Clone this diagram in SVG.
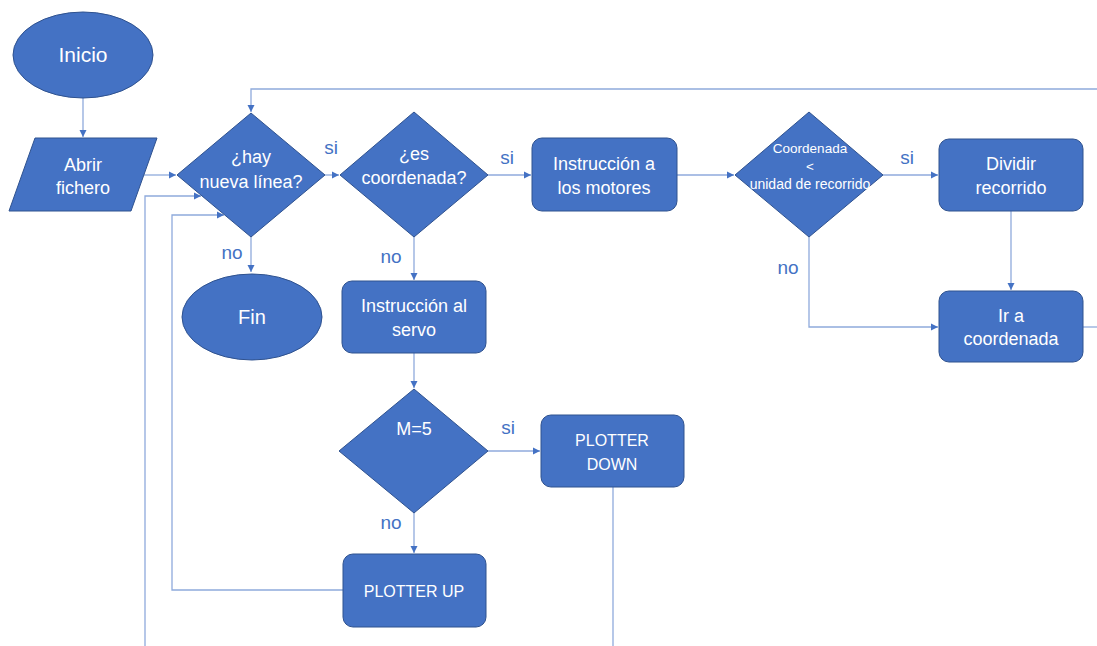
<svg xmlns="http://www.w3.org/2000/svg" width="1097" height="646" viewBox="0 0 1097 646">
<style>
.n{fill:#4472C4;stroke:#2F528F;stroke-width:1}
.t{fill:#FFFFFF;font-family:"Liberation Sans",Arial,sans-serif;font-size:18px;text-anchor:middle}
.lb{fill:#4472C4;font-family:"Liberation Sans",Arial,sans-serif;font-size:19px;text-anchor:middle}
.c{fill:none;stroke:#8FAADC;stroke-width:1.3}
</style>
<defs>
<marker id="ah" markerWidth="8" markerHeight="8" refX="7" refY="4" orient="auto" markerUnits="userSpaceOnUse">
<path d="M0,0.5 L7,4 L0,7.5 Z" fill="#4472C4"/>
</marker>
</defs>
<rect width="1097" height="646" fill="#FFFFFF"/>
<g id="connectors">
<path class="c" d="M83,98 V137" marker-end="url(#ah)"/>
<path class="c" d="M144,175 H176" marker-end="url(#ah)"/>
<path class="c" d="M1097,89 H251 V112" marker-end="url(#ah)"/>
<path class="c" d="M145,646 V196 H201" marker-end="url(#ah)"/>
<path class="c" d="M343,590 H172 V215 H224" marker-end="url(#ah)"/>
<path class="c" d="M325,175 H339" marker-end="url(#ah)"/>
<path class="c" d="M251,237 V272" marker-end="url(#ah)"/>
<path class="c" d="M488,175 H531" marker-end="url(#ah)"/>
<path class="c" d="M414,237 V280" marker-end="url(#ah)"/>
<path class="c" d="M677,175 H734" marker-end="url(#ah)"/>
<path class="c" d="M883,175 H938" marker-end="url(#ah)"/>
<path class="c" d="M1011,211 V290" marker-end="url(#ah)"/>
<path class="c" d="M809,237 V327 H938" marker-end="url(#ah)"/>
<path class="c" d="M1083,327 H1097"/>
<path class="c" d="M414,353 V388" marker-end="url(#ah)"/>
<path class="c" d="M488,451 H540" marker-end="url(#ah)"/>
<path class="c" d="M414,513 V553" marker-end="url(#ah)"/>
<path class="c" d="M613,487 V646"/>
</g>
<g id="labels">
<text class="lb" x="331" y="154">si</text>
<text class="lb" x="507" y="164">si</text>
<text class="lb" x="907" y="164">si</text>
<text class="lb" x="508" y="434">si</text>
<text class="lb" x="232" y="259">no</text>
<text class="lb" x="391" y="263">no</text>
<text class="lb" x="788" y="274">no</text>
<text class="lb" x="391" y="529">no</text>
</g>
<g id="inicio">
<ellipse class="n" cx="83" cy="55" rx="70" ry="43"/>
<text class="t" x="83" y="62" style="font-size:21px">Inicio</text>
</g>
<g id="abrir">
<polygon class="n" points="35,138 157,138 131,211 9,211"/>
<text class="t" x="83" y="171">Abrir</text>
<text class="t" x="83" y="194">fichero</text>
</g>
<g id="hay-nueva-linea">
<polygon class="n" points="251,113 325,175 251,237 177,175"/>
<text class="t" x="251" y="163">¿hay</text>
<text class="t" x="251" y="188">nueva línea?</text>
</g>
<g id="fin">
<ellipse class="n" cx="252" cy="317" rx="70" ry="43"/>
<text class="t" x="252" y="324" style="font-size:20px">Fin</text>
</g>
<g id="es-coordenada">
<polygon class="n" points="414,112 488,175 414,237 340,175"/>
<text class="t" x="414" y="160">¿es</text>
<text class="t" x="414" y="184">coordenada?</text>
</g>
<g id="instruccion-motores">
<rect class="n" x="532" y="138" width="145" height="73" rx="10"/>
<text class="t" x="604" y="170">Instrucción a</text>
<text class="t" x="604" y="194">los motores</text>
</g>
<g id="coordenada-menor">
<polygon class="n" points="809,112 883,175 809,237 735,175"/>
<text class="t" x="810" y="153" style="font-size:13.5px">Coordenada</text>
<text class="t" x="810" y="171" style="font-size:13.5px">&lt;</text>
<text class="t" x="810" y="189" style="font-size:14px">unidad de recorrido</text>
</g>
<g id="dividir-recorrido">
<rect class="n" x="939" y="139" width="144" height="72" rx="10"/>
<text class="t" x="1011" y="170">Dividir</text>
<text class="t" x="1011" y="194">recorrido</text>
</g>
<g id="ir-coordenada">
<rect class="n" x="939" y="291" width="144" height="71" rx="10"/>
<text class="t" x="1011" y="322">Ir a</text>
<text class="t" x="1011" y="345">coordenada</text>
</g>
<g id="instruccion-servo">
<rect class="n" x="342" y="281" width="144" height="72" rx="10"/>
<text class="t" x="414" y="312">Instrucción al</text>
<text class="t" x="414" y="336">servo</text>
</g>
<g id="m5">
<polygon class="n" points="414,389 488,451 414,513 339,451"/>
<text class="t" x="414" y="435">M=5</text>
</g>
<g id="plotter-down">
<rect class="n" x="541" y="415" width="143" height="72" rx="10"/>
<text class="t" x="612" y="446" style="font-size:16px">PLOTTER</text>
<text class="t" x="612" y="470" style="font-size:16px">DOWN</text>
</g>
<g id="plotter-up">
<rect class="n" x="343" y="554" width="143" height="73" rx="10"/>
<text class="t" x="414" y="597" style="font-size:16px">PLOTTER UP</text>
</g>
</svg>
